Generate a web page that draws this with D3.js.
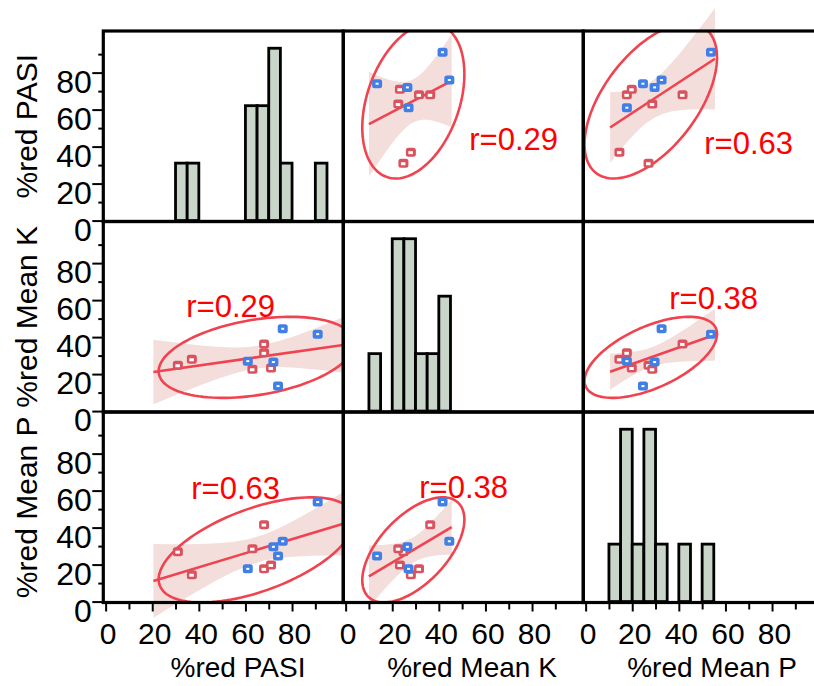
<!DOCTYPE html>
<html><head><meta charset="utf-8">
<script src="https://cdn.jsdelivr.net/npm/d3@7"></script>
<style>
body{margin:0;background:#fff;overflow:hidden;}
svg{display:block;font-family:"Liberation Sans",Arial,Helvetica,sans-serif;}
</style>
</head><body>
<svg id="chart" width="814" height="686"></svg>
<script>
// ---------------- data ----------------
const variables = ["%red PASI", "%red Mean K", "%red Mean P"];
const group = ["a","a","a","a","a","a","b","b","b","b","b"];
const pasi  = [31, 37, 68, 68, 63, 71, 76, 91, 61, 72, 74];
const meanK = [24.8, 28, 36.3, 31.5, 22.6, 23.3, 44.5, 41.6, 27, 26.5, 13.5];
const meanP = [27, 14.5, 41.6, 17.7, 28.6, 19.8, 32.6, 53.8, 17.7, 29.6, 24.6];
const majorTicks = [0, 20, 40, 60, 80];
const minorTicks = [10, 30, 50, 70, 90];
const rLabels = [
  ["", "r=0.29", "r=0.63"],
  ["r=0.29", "", "r=0.38"],
  ["r=0.63", "r=0.38", ""]
];
const fitLo = [20.5, 10, 10.5];
const fitHi = [102, 45.5, 55.5];
const binThresholds = d3.range(0, 101, 5);

// ---------------- layout ----------------
const cols = [pasi, meanK, meanP];
const colLeft = [103.3, 343.3, 583.3];
const rowTop = [31, 221.5, 412];
const W = 240, H = 190.5;
const rPos = { // offsets of r labels inside cells
  "0,1": [126, 119], "0,2": [121, 123],
  "1,0": [83, 95],   "1,2": [86, 87.5],
  "2,0": [88, 86.5], "2,1": [76, 86]
};
const lineColor = "#f0434f";
const bandColor = "#f4dedc";
const groupColor = { a: "#d9535f", b: "#3f7fe6" };

const svg = d3.select("#chart");
const xS = j => d3.scaleLinear().domain([-1, 102]).range([colLeft[j], colLeft[j] + W]);
const yS = i => d3.scaleLinear().domain([-0.5, 102.5]).range([rowTop[i] + H, rowTop[i]]);

const defs = svg.append("defs");
for (let i = 0; i < 3; i++) for (let j = 0; j < 3; j++) {
  defs.append("clipPath").attr("id", `clip${i}${j}`)
    .append("rect").attr("x", colLeft[j]).attr("y", rowTop[i]).attr("width", W).attr("height", H);
}

const chi = Math.sqrt(5.991);
const tcrit = 2.262;

function stats(xs, ys) {
  const n = xs.length;
  const mx = d3.mean(xs), my = d3.mean(ys);
  let sxx = 0, syy = 0, sxy = 0;
  for (let k = 0; k < n; k++) {
    sxx += (xs[k]-mx)**2; syy += (ys[k]-my)**2; sxy += (xs[k]-mx)*(ys[k]-my);
  }
  return { n, mx, my, sxx, syy, sxy };
}

const gBand = svg.append("g");
const gMain = svg.append("g");

for (let i = 0; i < 3; i++) {
  for (let j = 0; j < 3; j++) {
    const x = xS(j), y = yS(i);
    if (i === j) {
      // histogram
      const bins = d3.bin().domain([0, 100]).thresholds(binThresholds)(cols[j]).filter(b => b.length > 0);
      const cy = d3.scaleLinear().domain([0, 3.3]).range([y(0), rowTop[i]]);
      gMain.selectAll(null).data(bins).enter().append("rect")
        .attr("x", b => x(b.x0)).attr("width", b => x(b.x1) - x(b.x0))
        .attr("y", b => cy(b.length)).attr("height", b => cy(0) - cy(b.length))
        .attr("fill", "#c8d5c8").attr("stroke", "#000").attr("stroke-width", 2.8);
      continue;
    }
    const xs = cols[j], ys = cols[i];
    const s = stats(xs, ys);
    const b = s.sxy / s.sxx, a = s.my - b * s.mx;
    const resid = Math.sqrt((s.syy - b * s.sxy) / (s.n - 2));
    // confidence band
    const grid = d3.range(0, 13).map(k => fitLo[j] + (fitHi[j] - fitLo[j]) * k / 12);
    const half = v => tcrit * resid * Math.sqrt(1 / s.n + (v - s.mx) ** 2 / s.sxx);
    const poly = grid.map(v => [x(v), y(a + b * v + half(v))])
      .concat(grid.slice().reverse().map(v => [x(v), y(a + b * v - half(v))]));
    gBand.append("path").attr("d", d3.line()(poly) + "Z").attr("fill", bandColor);

    const cell = gMain.append("g").attr("clip-path", `url(#clip${i}${j})`);
    // density ellipse
    const nn = s.n - 1;
    const sx = Math.sqrt(s.sxx / nn), sy = Math.sqrt(s.syy / nn), cov = s.sxy / nn;
    const l21 = cov / sx, l22 = Math.sqrt(sy * sy - l21 * l21);
    const ell = d3.range(0, 121).map(k => {
      const t = 2 * Math.PI * k / 120;
      return [x(s.mx + chi * sx * Math.cos(t)), y(s.my + chi * (l21 * Math.cos(t) + l22 * Math.sin(t)))];
    });
    cell.append("path").attr("d", d3.line()(ell)).attr("fill", "none")
      .attr("stroke", lineColor).attr("stroke-width", 2.6);
    // fit line
    cell.append("line")
      .attr("x1", x(fitLo[j])).attr("y1", y(a + b * fitLo[j]))
      .attr("x2", x(fitHi[j])).attr("y2", y(a + b * fitHi[j]))
      .attr("stroke", lineColor).attr("stroke-width", 2.6);
    // points
    const pts = cell.selectAll(null).data(xs.map((v, k) => ({ xv: v, yv: ys[k], g: group[k] })))
      .enter().append("g").attr("transform", d => `translate(${x(d.xv)},${y(d.yv)})`);
    pts.append("rect").attr("x", -5).attr("y", -4.5).attr("width", 10).attr("height", 9).attr("rx", 2.5)
      .attr("fill", d => groupColor[d.g]);
    pts.append("rect").attr("x", d => d.g === "a" ? -2.5 : -1.5).attr("y", -1).attr("width", d => d.g === "a" ? 4.5 : 3)
      .attr("height", d => d.g === "a" ? 3 : 2).attr("fill", "#fff");
    // r label
    const p = rPos[`${i},${j}`];
    gMain.append("text").attr("x", colLeft[j] + p[0]).attr("y", rowTop[i] + p[1])
      .attr("fill", "#ff0000").attr("font-size", 31).text(rLabels[i][j]);
  }
}

// cell frames
for (let i = 0; i < 3; i++) for (let j = 0; j < 3; j++) {
  svg.append("rect").attr("x", colLeft[j]).attr("y", rowTop[i]).attr("width", W).attr("height", H)
    .attr("fill", "none").attr("stroke", "#000").attr("stroke-width", 3.2);
}

// left axes
for (let i = 0; i < 3; i++) {
  const y = yS(i);
  const gMin = svg.append("g").attr("transform", `translate(${colLeft[0]},0)`)
    .call(d3.axisLeft(y).tickValues(minorTicks).tickSize(5).tickFormat(""));
  const gMaj = svg.append("g").attr("transform", `translate(${colLeft[0]},0)`)
    .call(d3.axisLeft(y).tickValues(majorTicks).tickSize(11).tickPadding(1));
  [gMin, gMaj].forEach(g => {
    g.select(".domain").remove();
    g.selectAll("line").attr("stroke", "#000").attr("stroke-width", 2);
  });
  gMaj.selectAll("text").attr("font-size", 32).attr("font-family", "Liberation Sans, Arial, sans-serif")
    .attr("fill", "#000").attr("dy", 0).attr("y", 19.5).attr("x", -11.5);
  svg.append("text").attr("transform", `translate(37,${rowTop[i] + H / 2}) rotate(-90)`)
    .attr("text-anchor", "middle").attr("font-size", 30).attr("fill", "#000").text(variables[i]);
}

// bottom axes
const axisY = rowTop[2] + H;
const titleX = [238, 472, 712];
for (let j = 0; j < 3; j++) {
  const x = xS(j);
  const gMin = svg.append("g").attr("transform", `translate(0,${axisY})`)
    .call(d3.axisBottom(x).tickValues(minorTicks).tickSize(7).tickFormat(""));
  const gMaj = svg.append("g").attr("transform", `translate(0,${axisY})`)
    .call(d3.axisBottom(x).tickValues(majorTicks).tickSize(9));
  [gMin, gMaj].forEach(g => {
    g.select(".domain").remove();
    g.selectAll("line").attr("stroke", "#000").attr("stroke-width", 2);
  });
  gMaj.selectAll("text").attr("font-size", 30).attr("font-family", "Liberation Sans, Arial, sans-serif")
    .attr("fill", "#000").attr("dy", 0).attr("y", 41.5).attr("dx", 2);
  svg.append("text").attr("x", titleX[j]).attr("y", 677).attr("text-anchor", "middle")
    .attr("font-size", 28).attr("fill", "#000").text(variables[j]);
}
</script>
</body></html>
